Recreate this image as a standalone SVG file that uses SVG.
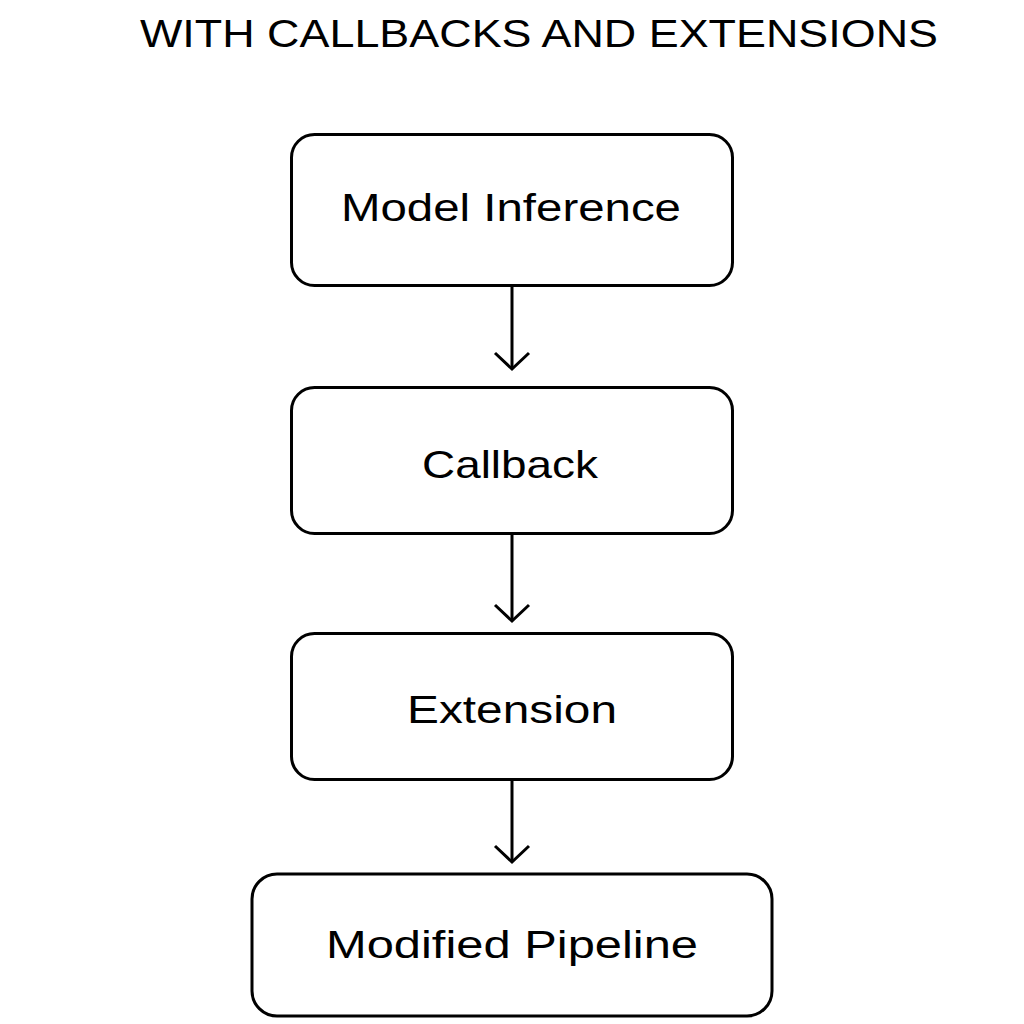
<svg xmlns="http://www.w3.org/2000/svg" width="1024" height="1024" viewBox="0 0 1024 1024">
  <style>
    .box { fill: #ffffff; stroke: #000000; stroke-width: 3; }
    .lbl { font-family: "Liberation Sans", Arial, sans-serif; font-size: 39px; fill: #000000; text-anchor: middle; }
    .title { font-family: "Liberation Sans", Arial, sans-serif; font-size: 39px; fill: #000000; text-anchor: middle; }
    .edge { fill: none; stroke: #000000; stroke-width: 3; }
  </style>
  <defs>
    <marker id="arrow" markerUnits="userSpaceOnUse" markerWidth="40" markerHeight="40" viewBox="-20 -20 40 40" refX="0" refY="0" orient="auto">
      <path d="M -16 -17 L 0 0 L -16 17" fill="none" stroke="#000000" stroke-width="3"/>
    </marker>
  </defs>
  <rect width="1024" height="1024" fill="#ffffff"/>
  <text id="title" class="title" x="539" y="47" textLength="798" lengthAdjust="spacingAndGlyphs">WITH CALLBACKS AND EXTENSIONS</text>

  <g id="connectors">
    <line class="edge" x1="512" y1="286" x2="512" y2="369" marker-end="url(#arrow)"/>
    <line class="edge" x1="512" y1="534" x2="512" y2="621" marker-end="url(#arrow)"/>
    <line class="edge" x1="512" y1="780" x2="512" y2="862" marker-end="url(#arrow)"/>
  </g>

  <g id="node-model-inference">
    <rect class="box" x="291.5" y="134.5" width="441" height="151" rx="23"/>
    <text class="lbl" x="511" y="221" textLength="340" lengthAdjust="spacingAndGlyphs">Model Inference</text>
  </g>
  <g id="node-callback">
    <rect class="box" x="291.5" y="387.5" width="441" height="146" rx="23"/>
    <text class="lbl" x="510" y="478" textLength="176" lengthAdjust="spacingAndGlyphs">Callback</text>
  </g>
  <g id="node-extension">
    <rect class="box" x="291.5" y="633.5" width="441" height="146" rx="23"/>
    <text class="lbl" x="512" y="723" textLength="210" lengthAdjust="spacingAndGlyphs">Extension</text>
  </g>
  <g id="node-modified-pipeline">
    <rect class="box" x="252" y="874" width="520" height="142" rx="25"/>
    <text class="lbl" x="512" y="958" textLength="372" lengthAdjust="spacingAndGlyphs">Modified Pipeline</text>
  </g>
</svg>
